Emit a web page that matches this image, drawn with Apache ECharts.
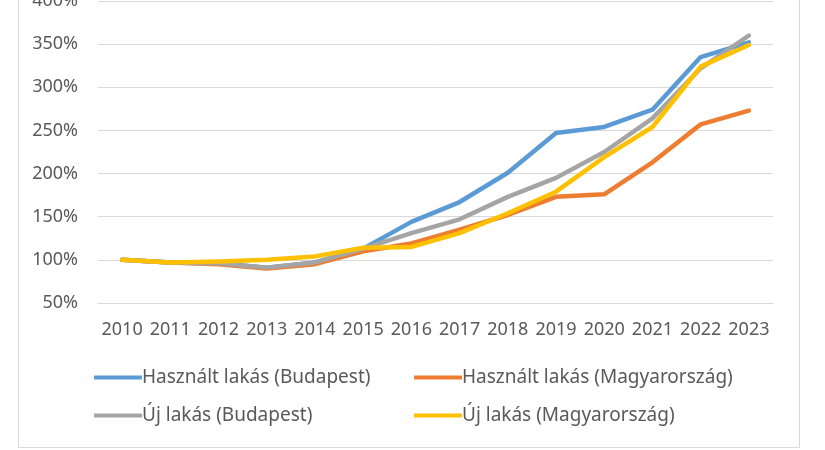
<!DOCTYPE html>
<html>
<head>
<meta charset="utf-8">
<script src="https://cdn.jsdelivr.net/npm/echarts@6/dist/echarts.min.js"></script>
<style>
  html, body { margin: 0; padding: 0; background: #fff; }
  #chart { width: 825px; height: 450px; }
</style>
</head>
<body>
<div id="chart"></div>
<script>
// évek
const years = ['2010', '2011', '2012', '2013', '2014', '2015', '2016',
  '2017', '2018', '2019', '2020', '2021', '2022', '2023'];

// árindex, 2010 = 100%
const hasznaltBudapest = [100, 97, 96, 91, 97, 113, 144, 167, 201, 247, 254, 274, 335, 352];
const hasznaltOrszag = [100, 97, 95, 90, 95, 110, 119, 135, 152, 173, 176, 213, 257, 273];
const ujBudapest = [100, 97, 96, 91, 97, 113, 131, 147, 173, 195, 225, 264, 322, 360];
const ujOrszag = [100, 97, 98, 100, 104, 114, 115, 131, 154, 179, 219, 254, 324, 349];

const seriesNames = ['Használt lakás (Budapest)', 'Használt lakás (Magyarország)',
  'Új lakás (Budapest)', 'Új lakás (Magyarország)'];
const seriesData = [hasznaltBudapest, hasznaltOrszag, ujBudapest, ujOrszag];
const colors = ['#5B9BD5', '#ED7D31', '#A5A5A5', '#FFC000'];

const font = '"Noto Sans", "Open Sans", sans-serif';
const textColor = '#595959';

// legend positions (2x2, Excel style)
const legendPos = [[94, 368], [414, 368], [94, 406], [414, 406]];

const chart = echarts.init(document.getElementById('chart'));

const option = {
  animation: false,
  color: colors,
  graphic: [{
    type: 'rect',
    left: 16,
    top: -5,
    shape: { width: 781, height: 450 },
    style: { fill: 'none', stroke: '#d9d9d9', lineWidth: 1 },
    silent: true,
  }],
  grid: {
    left: 98,
    right: 52,
    top: 1,
    bottom: 147,
    containLabel: false,
    outerBoundsMode: 'none',
  },
  legend: seriesNames.map((name, i) => ({
    data: [name],
    left: legendPos[i][0],
    top: legendPos[i][1],
    padding: 0,
    icon: 'rect',
    itemWidth: 48,
    itemHeight: 4,
    textStyle: {
      fontFamily: font,
      fontSize: 19,
      color: textColor,
      padding: [0, 0, 0, -5],
    },
  })),
  xAxis: {
    type: 'category',
    data: years,
    boundaryGap: true,
    axisLine: { lineStyle: { color: '#d9d9d9' } },
    axisTick: { show: false },
    axisLabel: {
      interval: 0,
      margin: 18,
      fontFamily: font,
      fontSize: 18,
      color: textColor,
    },
  },
  yAxis: {
    type: 'value',
    min: 50,
    max: 400,
    interval: 50,
    axisLine: { show: false },
    axisTick: { show: false },
    splitLine: { lineStyle: { color: '#d9d9d9', width: 1 } },
    axisLabel: {
      margin: 20,
      formatter: '{value}%',
      fontFamily: font,
      fontSize: 18,
      color: textColor,
    },
  },
  series: seriesNames.map((name, i) => ({
    name: name,
    type: 'line',
    data: seriesData[i],
    symbol: 'none',
    lineStyle: { width: 4.5, color: colors[i], cap: 'round', join: 'round' },
  })),
};

chart.setOption(option);
</script>
</body>
</html>
